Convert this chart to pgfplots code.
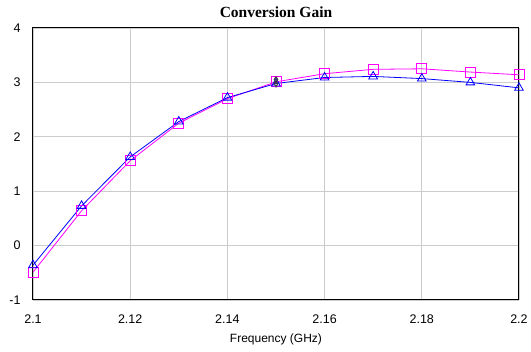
\documentclass[border=0pt]{standalone}
\usepackage{pgfplots}
\pgfplotsset{compat=1.18}
\usepackage{fontspec}
\setmainfont{Liberation Sans}
\newfontfamily\titlefont{Liberation Serif}
\definecolor{mag}{RGB}{255,0,255}
\definecolor{blu}{RGB}{0,0,255}
\definecolor{gridc}{RGB}{204,204,204}
\begin{document}
\begin{tikzpicture}[x=1pt,y=1pt]
\begin{axis}[
  scale only axis,
  width=486pt, height=272pt,
  xmin=2.1, xmax=2.2, ymin=-1, ymax=4,
  xtick={2.1,2.12,2.14,2.16,2.18,2.2},
  xticklabels={2.1,2.12,2.14,2.16,2.18,2.2},
  ytick={-1,0,1,2,3,4},
  yticklabels={-1,0,1,2,3,4},
  tick style={draw=none},
  xticklabel style={font=\fontsize{12.5}{14}\selectfont, yshift=-11pt},
  yticklabel style={font=\fontsize{12.5}{14}\selectfont, xshift=-9pt},
  grid=major,
  major grid style={gridc, line width=0.9pt},
  axis line style={black, line width=1pt},
  title={\titlefont\bfseries\fontsize{15.5}{17}\selectfont Conversion Gain},
  title style={yshift=1pt},
  xlabel={\fontsize{12}{14}\selectfont Frequency (GHz)},
  xlabel style={yshift=-4pt},
  clip=false,
]
\addplot[mag, line width=0.8pt, mark=square, mark size=5pt, mark options={solid, fill=none}] coordinates {
(2.10,-0.49) (2.11,0.64) (2.12,1.56) (2.13,2.25) (2.14,2.70) (2.15,3.01)
(2.16,3.16) (2.17,3.24) (2.18,3.25) (2.19,3.19) (2.20,3.14)};
\addplot[blu, line width=0.8pt, mark=triangle, mark size=5pt, mark options={solid, fill=none}] coordinates {
(2.10,-0.36) (2.11,0.73) (2.12,1.63) (2.13,2.28) (2.14,2.72) (2.15,2.98)
(2.16,3.09) (2.17,3.11) (2.18,3.07) (2.19,3.00) (2.20,2.90)};
\addplot[black, only marks, mark=diamond, mark size=2.5pt, mark options={fill=none}] coordinates {(2.15,3.06) (2.15,2.98)};
\addplot[black!70, only marks, mark=triangle, mark size=2.5pt, mark options={fill=none, rotate=180}] coordinates {(2.15,2.95) (2.15,3.03)};
\addplot[black!80, only marks, mark=x, mark size=2pt] coordinates {(2.15,3.08) (2.15,3.0)};
\end{axis}
\path ([shift={(-33pt,-52pt)}]current axis.south west) rectangle ([shift={(12pt,28pt)}]current axis.north east);
\end{tikzpicture}
\end{document}
